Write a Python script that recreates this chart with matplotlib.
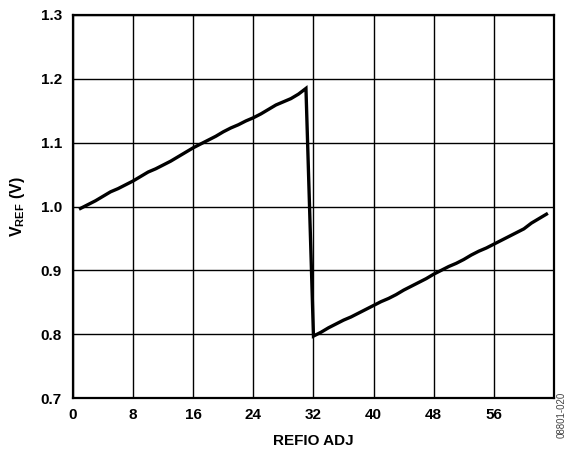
import matplotlib
matplotlib.use("Agg")
import matplotlib.pyplot as plt

# REFIO ADJ code vs reference voltage
codeLow = list(range(1, 32))
vrefLow = [0.997, 1.003, 1.009, 1.016, 1.023, 1.028, 1.034, 1.040, 1.047, 1.054,
           1.059, 1.065, 1.071, 1.078, 1.085, 1.092, 1.098, 1.104, 1.110, 1.117,
           1.123, 1.128, 1.134, 1.139, 1.145, 1.152, 1.159, 1.164, 1.169, 1.176,
           1.185]
codeHigh = list(range(32, 64))
vrefHigh = [0.797, 0.803, 0.810, 0.816, 0.822, 0.827, 0.833, 0.839, 0.845, 0.851,
            0.856, 0.862, 0.869, 0.875, 0.881, 0.887, 0.894, 0.900, 0.906, 0.911,
            0.917, 0.924, 0.930, 0.935, 0.941, 0.947, 0.953, 0.959, 0.965, 0.974,
            0.981, 0.988]
xTicks = [0, 8, 16, 24, 32, 40, 48, 56]
yTicks = [0.7, 0.8, 0.9, 1.0, 1.1, 1.2, 1.3]

plt.rcParams['font.family'] = ['Liberation Sans', 'DejaVu Sans']
plt.rcParams['font.weight'] = 'bold'
plt.rcParams['mathtext.fontset'] = 'custom'
plt.rcParams['mathtext.bf'] = 'Liberation Sans:bold'
plt.rcParams['mathtext.rm'] = 'Liberation Sans:bold'

fig = plt.figure(figsize=(5.67, 4.54), dpi=100)
ax = fig.add_axes([0.1287, 0.1233, 0.8483, 0.8437])

ax.plot(codeLow + codeHigh, vrefLow + vrefHigh, color='black', linewidth=2.4,
        solid_joinstyle='miter', zorder=3)

ax.set_xlim(0, 64)
ax.set_ylim(0.7, 1.3)
ax.set_xticks(list(range(0, 65, 8)))
ax.set_xticklabels([str(t) for t in xTicks] + [''])
ax.set_yticks(yTicks)
ax.set_yticklabels(['%.1f' % t for t in yTicks])
ax.tick_params(length=0, labelsize=11, pad=8)
ax.tick_params(axis='x', pad=7)
for lbl in ax.get_xticklabels() + ax.get_yticklabels():
    lbl.set_fontweight('bold')
ax.grid(True, color='black', linewidth=1.0)
for sp in ax.spines.values():
    sp.set_linewidth(1.6)

ax.set_xlabel('REFIO ADJ', fontsize=11, fontweight='bold', labelpad=9)
ax.set_ylabel(r'V$_{\mathbf{REF}}$ (V)', fontsize=11.5, fontweight='bold', labelpad=10)

fig.text(0.991, 0.1366, '08801-020', rotation=90, fontsize=7, color='#444444',
         ha='center', va='top', fontweight='normal')

fig.savefig('out.png', dpi=100)
